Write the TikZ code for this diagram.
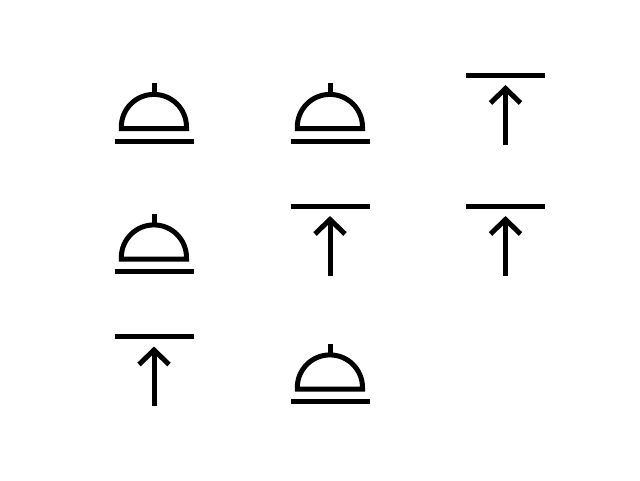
\documentclass[tikz,border=0pt]{standalone}
\usepackage{tikz}
\tikzset{
  glyph/.style={line width=5pt, black},
  bell/.pic={
    \draw[glyph] (-78.5,0) -- (0,0);
    \draw[glyph] (-72.2,-12.5) -- (-7,-12.5) -- (-7,-14) arc[start angle=0, end angle=-180, x radius=32.6, y radius=32.6] -- cycle;
    \draw[glyph] (-39.5,-46) -- (-39.5,-58);
  },
  toparrow/.pic={
    \draw[glyph] (-39.5,0) -- (39.5,0);
    \draw[glyph] (0,13.5) -- (0,69.5);
    \draw[glyph] (-15,28) -- (0,13.5) -- (15,28);
  }
}
\begin{document}
\begin{tikzpicture}[x=1pt, y=-1pt]
  \useasboundingbox (0,0) rectangle (640,480);
  \fill[white] (0,0) rectangle (640,480);
  \pic at (193.5,141) {bell};
  \pic at (369.5,141) {bell};
  \pic at (505.5,75) {toparrow};
  \pic at (193.5,271.5) {bell};
  \pic at (330,206) {toparrow};
  \pic at (505.5,206) {toparrow};
  \pic at (154,336.5) {toparrow};
  \pic at (369.5,401.5) {bell};
\end{tikzpicture}
\end{document}
